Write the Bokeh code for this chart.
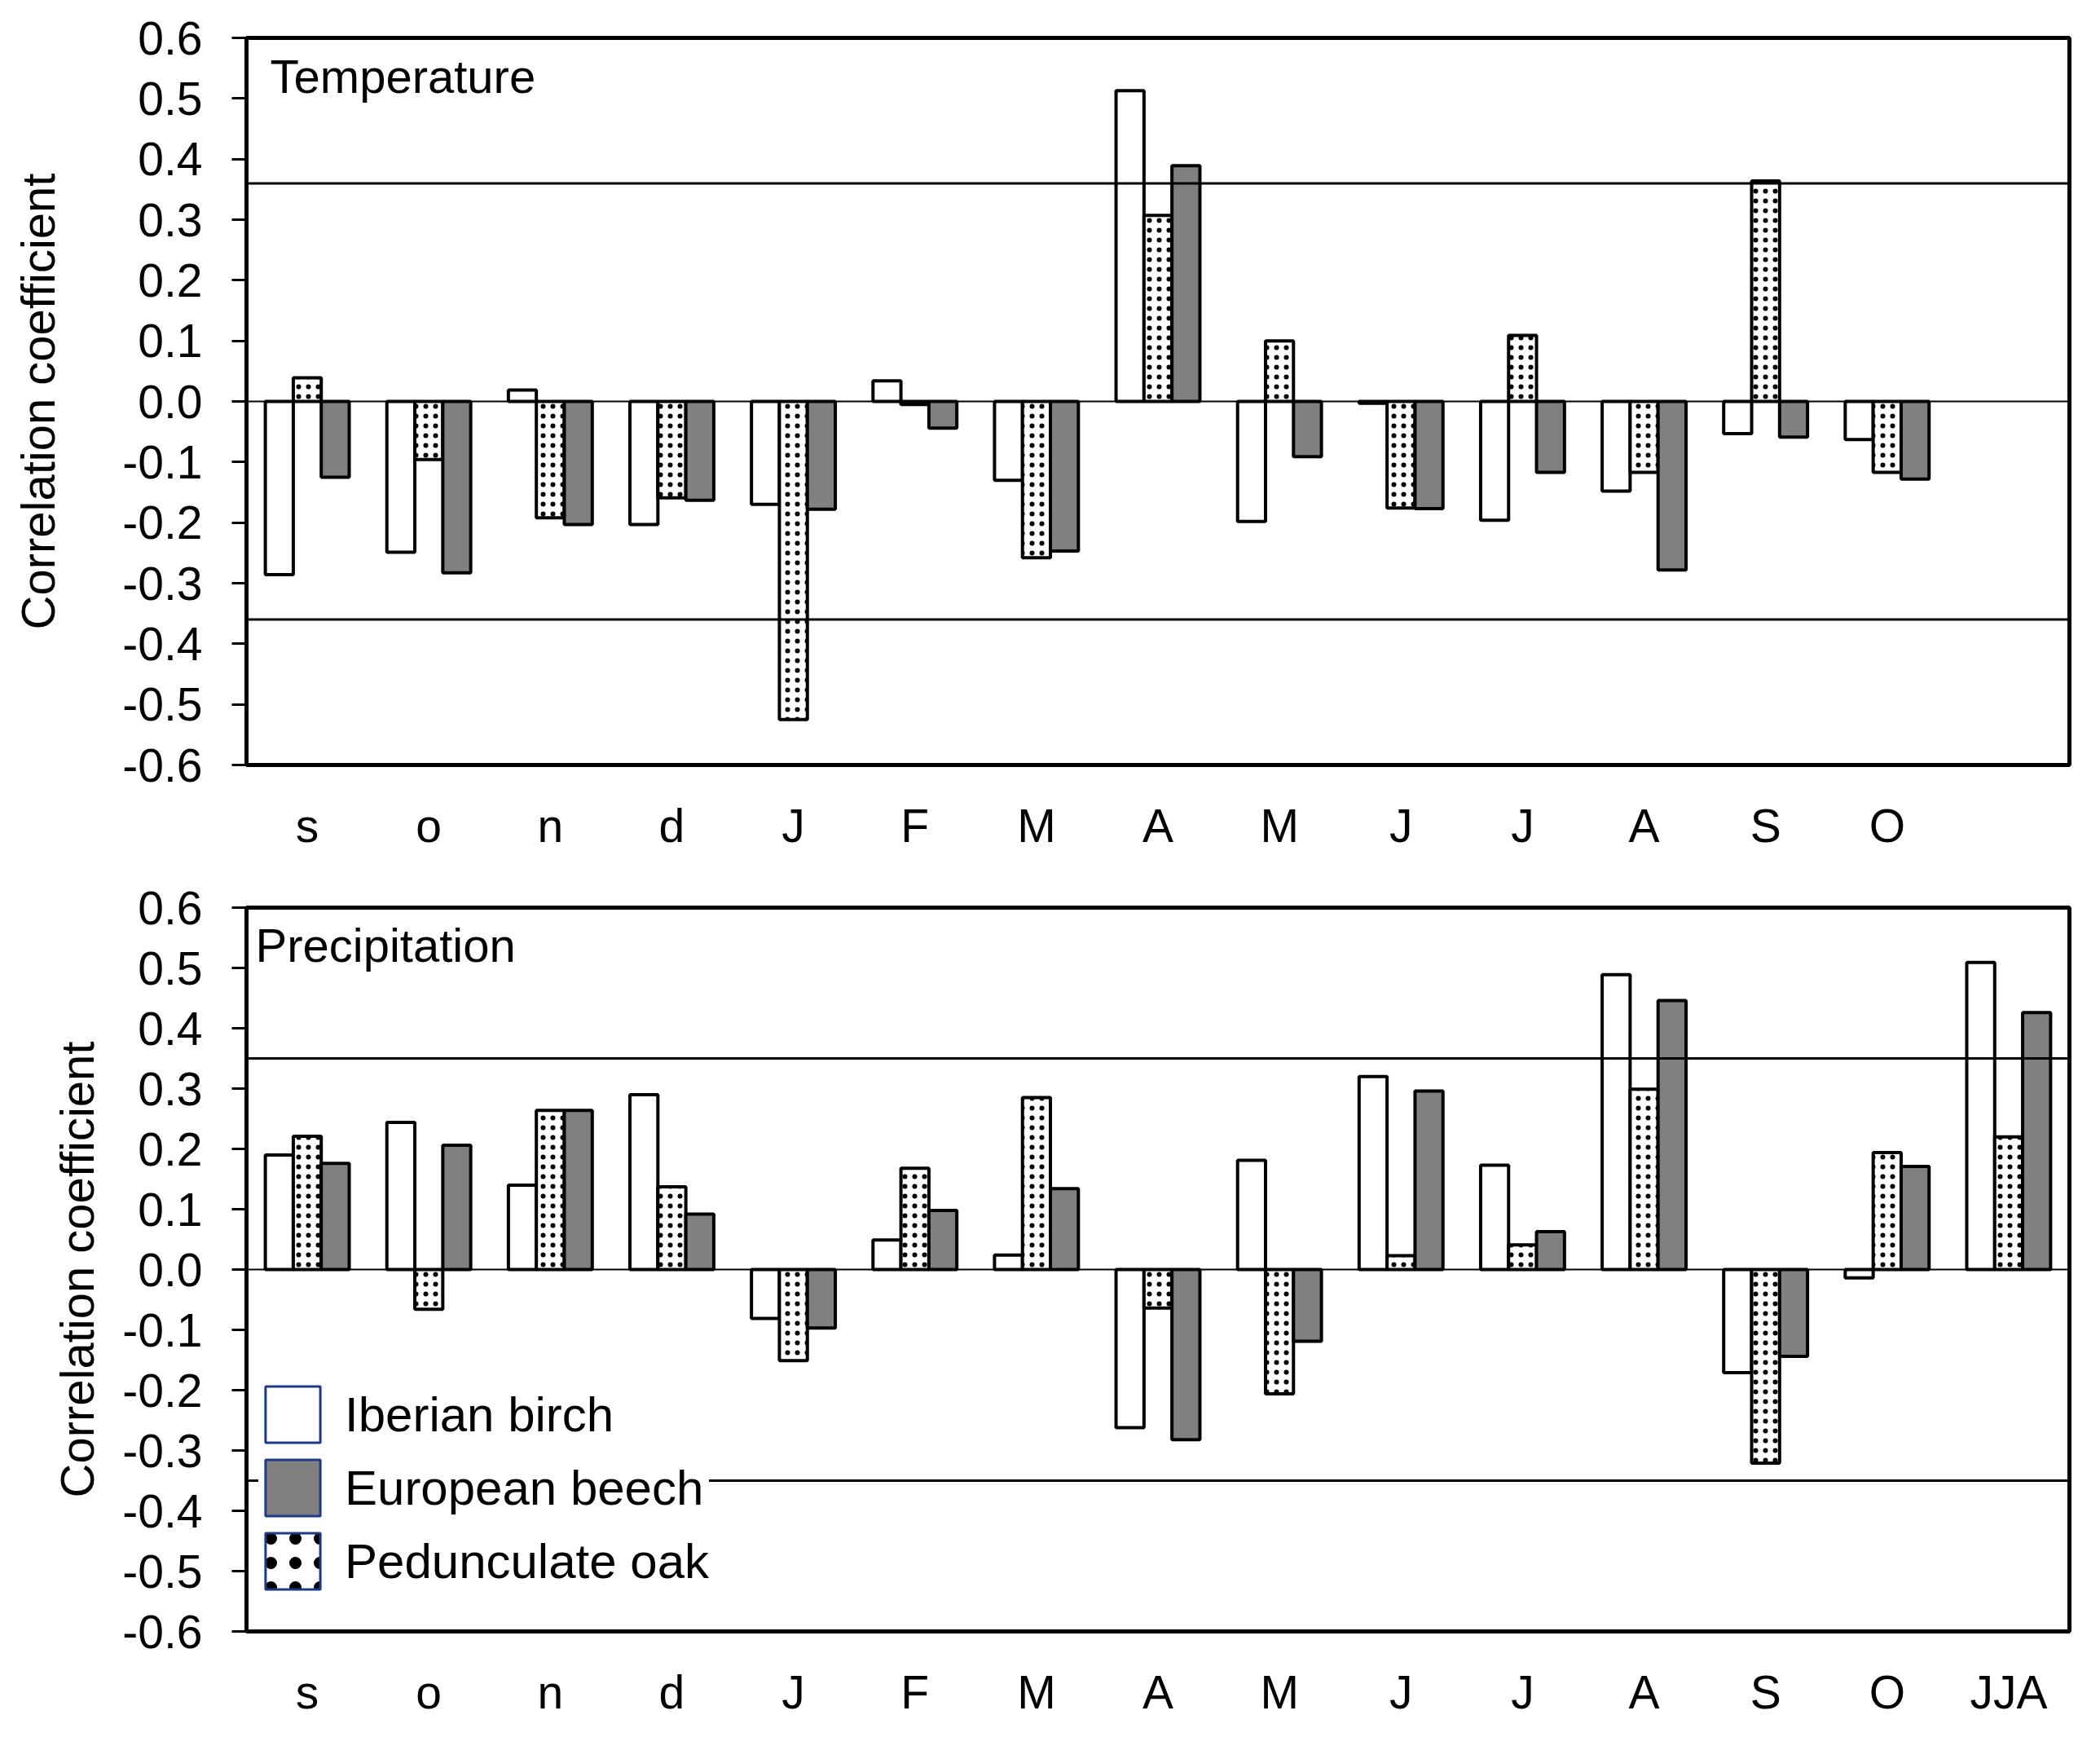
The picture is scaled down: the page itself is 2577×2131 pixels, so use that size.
import numpy as np
from bokeh.plotting import figure
from bokeh.layouts import column
from bokeh.models import (Range1d, FixedTicker, CustomJSTickFormatter, PrintfTickFormatter,
                          Span, Label, Legend, LegendItem, ColumnDataSource)
from bokeh.embed import file_html
from bokeh.resources import INLINE

# ---------------- data ----------------
months_temp = ["s", "o", "n", "d", "J", "F", "M", "A", "M", "J", "J", "A", "S", "O"]
months_prec = ["s", "o", "n", "d", "J", "F", "M", "A", "M", "J", "J", "A", "S", "O", "JJA"]

birch_temp = [-0.286, -0.249, 0.019, -0.203, -0.170, 0.034, -0.130, 0.513, -0.198, -0.003, -0.196, -0.148, -0.053, -0.063]
oak_temp   = [0.039, -0.096, -0.192, -0.159, -0.525, -0.005, -0.258, 0.307, 0.100, -0.176, 0.109, -0.117, 0.364, -0.117]
beech_temp = [-0.125, -0.283, -0.203, -0.163, -0.178, -0.044, -0.247, 0.389, -0.091, -0.177, -0.117, -0.278, -0.059, -0.128]

birch_prec = [0.190, 0.244, 0.140, 0.290, -0.081, 0.049, 0.024, -0.262, 0.181, 0.320, 0.173, 0.489, -0.171, -0.014, 0.509]
oak_prec   = [0.221, -0.066, 0.264, 0.137, -0.151, 0.168, 0.285, -0.064, -0.206, 0.023, 0.041, 0.299, -0.321, 0.194, 0.220]
beech_prec = [0.176, 0.206, 0.264, 0.092, -0.097, 0.098, 0.134, -0.282, -0.119, 0.296, 0.063, 0.446, -0.144, 0.171, 0.426]

sig_temp = 0.36
sig_prec = 0.35
y_ticks = [-0.6, -0.5, -0.4, -0.3, -0.2, -0.1, 0.0, 0.1, 0.2, 0.3, 0.4, 0.5, 0.6]
n_slots = 15

FONT = "Liberation Sans"
BAR_W = 0.23


def make_panel(cats, birch, oak, beech, sig, title, width, height, mb_left, mb_right,
               mb_top, mb_bottom, label_standoff, title_x, title_y, with_legend=False):
    p = figure(width=width, height=height, output_backend="svg", toolbar_location=None,
               x_range=Range1d(0, n_slots), y_range=Range1d(-0.6, 0.6),
               min_border_left=mb_left, min_border_right=mb_right,
               min_border_top=mb_top, min_border_bottom=mb_bottom)
    p.xgrid.visible = False
    p.ygrid.visible = False
    p.outline_line_color = "black"
    p.outline_line_width = 5
    p.background_fill_color = "white"

    xs = np.arange(len(cats)) + 0.5
    src = ColumnDataSource(dict(x=xs, birch=birch, oak=oak, beech=beech,
                                xb=xs - BAR_W, xg=xs + BAR_W))
    p.vbar(x="xb", top="birch", bottom=0, width=BAR_W, source=src,
           fill_color="white", line_color="black", line_width=4)
    p.vbar(x="x", top="oak", bottom=0, width=BAR_W, source=src,
           fill_color="white", line_color="black", line_width=4,
           hatch_pattern="dot", hatch_color="black", hatch_scale=12, hatch_weight=5)
    p.vbar(x="xg", top="beech", bottom=0, width=BAR_W, source=src,
           fill_color="#808080", line_color="black", line_width=4)

    p.add_layout(Span(location=0, dimension="width", line_color="black", line_width=2))
    p.add_layout(Span(location=sig, dimension="width", line_color="black", line_width=3))
    p.add_layout(Span(location=-sig, dimension="width", line_color="black", line_width=3))

    # x axis
    xa = p.xaxis[0]
    xa.ticker = FixedTicker(ticks=list(xs))
    xa.formatter = CustomJSTickFormatter(args=dict(labels=cats),
                                         code="return labels[Math.floor(tick)];")
    xa.axis_line_color = None
    xa.major_tick_in = 0
    xa.major_tick_out = 0
    xa.minor_tick_line_color = None
    xa.major_label_standoff = 42
    xa.major_label_text_font = FONT
    xa.major_label_text_font_size = "57px"
    xa.major_label_text_color = "black"

    # y axis
    ya = p.yaxis[0]
    ya.ticker = FixedTicker(ticks=y_ticks)
    ya.formatter = PrintfTickFormatter(format="%.1f")
    ya.axis_line_color = None
    ya.major_tick_in = 0
    ya.major_tick_out = 18
    ya.major_tick_line_width = 3
    ya.major_tick_line_color = "black"
    ya.minor_tick_line_color = None
    ya.major_label_standoff = 36
    ya.major_label_text_font = FONT
    ya.major_label_text_font_size = "57px"
    ya.major_label_text_color = "black"
    ya.axis_label = "Correlation coefficient"
    ya.axis_label_text_font = FONT
    ya.axis_label_text_font_size = "58px"
    ya.axis_label_text_font_style = "normal"
    ya.axis_label_text_color = "black"
    ya.axis_label_standoff = label_standoff

    p.add_layout(Label(x=title_x, y=title_y, text=title, text_font=FONT,
                       text_font_size="58px", text_color="black",
                       text_baseline="alphabetic"))

    if with_legend:
        # legend-only renderers: their single bar lies far outside the visible ranges
        hidden = ColumnDataSource(dict(x=[-20.0], top=[-20.0], bottom=[-21.0]))
        navy = "#1c3a86"
        r1 = p.vbar(x="x", top="top", bottom="bottom", width=BAR_W, source=hidden,
                    fill_color="white", line_color=navy, line_width=3)
        r2 = p.vbar(x="x", top="top", bottom="bottom", width=BAR_W, source=hidden,
                    fill_color="#808080", line_color=navy, line_width=3)
        r3 = p.vbar(x="x", top="top", bottom="bottom", width=BAR_W, source=hidden,
                    fill_color="white", line_color=navy, line_width=3,
                    hatch_pattern="dot", hatch_color="black", hatch_scale=30, hatch_weight=9)
        leg = Legend(items=[LegendItem(label="Iberian birch", renderers=[r1]),
                            LegendItem(label="European beech", renderers=[r2]),
                            LegendItem(label="Pedunculate oak", renderers=[r3])],
                     location=(15, 43), padding=7, spacing=4, margin=0,
                     glyph_width=84, glyph_height=86, label_height=86,
                     label_standoff=22, background_fill_color="white",
                     background_fill_alpha=1.0, border_line_color=None,
                     label_text_font=FONT, label_text_font_size="60px",
                     label_text_color="black")
        p.add_layout(leg)
    return p


p1 = make_panel(months_temp, birch_temp, oak_temp, beech_temp, sig_temp, "Temperature",
                2560, 1077, 293, 21, 46, 139, 68, 0.195, 0.537)
p2 = make_panel(months_prec, birch_prec, oak_prec, beech_prec, sig_prec, "Precipitation",
                2560, 1044, 302, 14, 36, 120, 20, 0.074, 0.538, with_legend=True)

layout = column(p1, p2, spacing=0)
open("out.html", "w").write(file_html(layout, INLINE))
